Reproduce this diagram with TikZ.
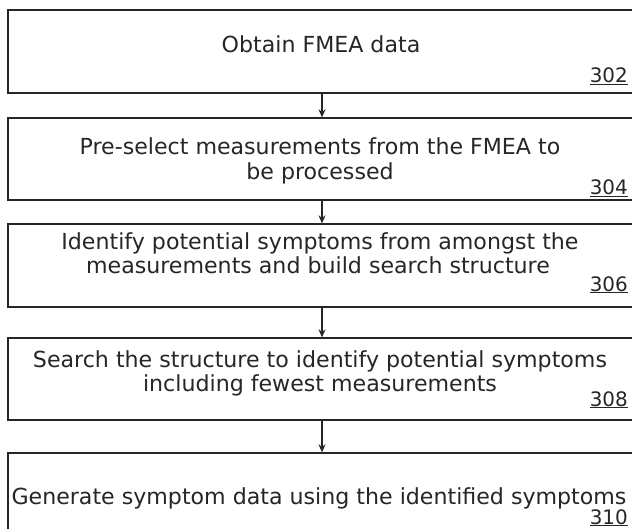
\documentclass[tikz,border=0pt]{standalone}
\usepackage{fontspec}
\setmainfont{DejaVu Sans}
\usetikzlibrary{arrows.meta}
\begin{document}
\begin{tikzpicture}[x=1bp,y=-1bp,
  stepbox/.style={draw=black!85,line width=1.3bp,minimum width=628bp,inner sep=0pt},
  txt/.style={anchor=base,inner sep=0pt,text=black!85,font=\fontsize{22.2}{25}\selectfont},
  lbl/.style={anchor=base east,inner sep=0pt,text=black!85,font=\fontsize{20}{22}\selectfont},
  arr/.style={draw=black!85,line width=1.2bp,-{Stealth[length=8bp,width=7bp]}}]
\clip (0,0) rectangle (632,529);
\fill[white] (0,0) rectangle (632,529);
% boxes
\node[stepbox,minimum height=83bp] (b1) at (322,51.5) {};
\node[stepbox,minimum height=82bp] (b2) at (322,159) {};
\node[stepbox,minimum height=83bp] (b3) at (322,265.5) {};
\node[stepbox,minimum height=82bp] (b4) at (322,379) {};
\node[stepbox,minimum height=90bp] (b5) at (322,498) {};
% texts
\node[txt] (t1) at (321,52.5) {Obtain FMEA data};
\node[lbl] (n1) at (628,83) {\underline{302}};
\node[txt] (t2a) at (320,154.5) {Pre-select measurements from the FMEA to};
\node[txt] (t2b) at (320,179.5) {be processed};
\node[lbl] (n2) at (628,195) {\underline{304}};
\node[txt] (t3a) at (320,249.5) {Identify potential symptoms from amongst the};
\node[txt] (t3b) at (318,273.5) {measurements and build search structure};
\node[lbl] (n3) at (628,291) {\underline{306}};
\node[txt] (t4a) at (320,367.5) {Search the structure to identify potential symptoms};
\node[txt] (t4b) at (320,391.5) {including fewest measurements};
\node[lbl] (n4) at (628,406) {\underline{308}};
\node[txt] (t5) at (319,504.5) {Generate symptom data using the identified symptoms};
\node[lbl] (n5) at (628,524) {\underline{310}};
% arrows
\draw[arr] (b1.south) -- (b2.north);
\draw[arr] (b2.south) -- (b3.north);
\draw[arr] (b3.south) -- (b4.north);
\draw[arr] (b4.south) -- (b5.north);
\end{tikzpicture}
\end{document}
